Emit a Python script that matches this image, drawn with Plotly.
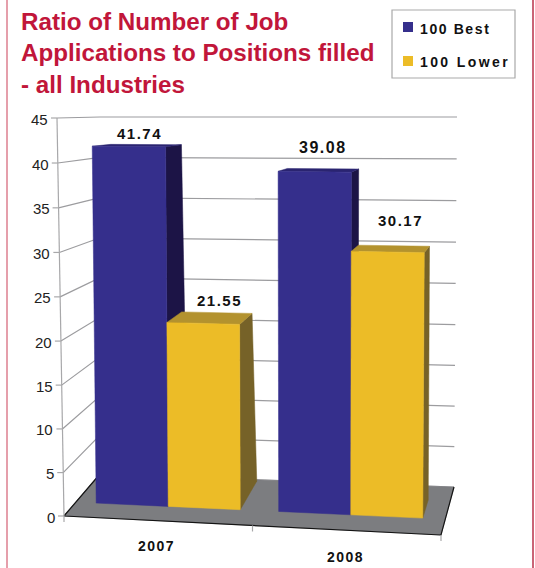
import plotly.graph_objects as go

# ---------- data ----------
YEARS = ["2007", "2008"]
BEST = [41.74, 39.08]
LOWER = [21.55, 30.17]
Y_TICKS = [0, 5, 10, 15, 20, 25, 30, 35, 40, 45]
Y_MAX = 45
TITLE = "Ratio of Number of Job<br>Applications to Positions filled<br>- all Industries"
SERIES = ["100 Best", "100 Lower"]

# ---------- projection of the 3-D plot box on the page ----------
W, H = 535, 568
FL0, FR0, BL0, BR0 = (64, 516), (441, 535), (100, 474), (454, 487)
FL1, FR1, BL1, BR1 = (57, 118), (443.5, 121), (100, 117), (457, 117)
BOW = 2.0


def lerp(a, b, t):
    return a + (b - a) * t


def bilin(fl, fr, bl, br, u, w):
    return tuple(lerp(lerp(fl[i], fr[i], u), lerp(bl[i], br[i], u), w) for i in (0, 1))


def project(u, value, w):
    lo = bilin(FL0, FR0, BL0, BR0, u, w)
    hi = bilin(FL1, FR1, BL1, BR1, u, w)
    t = value / Y_MAX
    return (lerp(lo[0], hi[0], t), lerp(lo[1], hi[1], t) + BOW * 4 * t * (1 - t))


fig = go.Figure()


def poly(points, fill, name):
    fig.add_trace(go.Scatter(
        x=[p[0] for p in points] + [points[0][0]],
        y=[p[1] for p in points] + [points[0][1]],
        mode="lines", fill="toself", fillcolor=fill,
        line=dict(color=fill, width=0.5),
        hoverinfo="skip", showlegend=False, name=name))


def polyline(segments, color, width, name):
    xs, ys = [], []
    for seg in segments:
        xs += [p[0] for p in seg] + [None]
        ys += [p[1] for p in seg] + [None]
    fig.add_trace(go.Scatter(x=xs, y=ys, mode="lines",
                             line=dict(color=color, width=width),
                             hoverinfo="skip", showlegend=False, name=name))


# walls
grid = []
for t in Y_TICKS:
    grid.append([project(0, t, 0), project(0, t, 1), project(1, t, 1)])
polyline(grid, "#9c9c9f", 1.2, "grid")

# floor
poly([project(0, 0, 0), project(1, 0, 0), project(1, 0, 1), project(0, 0, 1)], "#7c7d80", "floor")
polyline([[project(0, 0, 1), project(0, 0, 0), project(1, 0, 0), project(1, 0, 1)]], "#141414", 1.2, "floor edge")

# axes + ticks
polyline([[project(0, 0, 0), project(0, Y_MAX, 0)]], "#a8a8aa", 1.2, "y axis")
ticks = []
for t in Y_TICKS:
    p = project(0, t, 0)
    ticks.append([(p[0] - 6, p[1]), p])
polyline(ticks, "#a8a8aa", 1.2, "y ticks")
polyline([[project(u, 0, 0), (project(u, 0, 0)[0], project(u, 0, 0)[1] + 6)] for u in (0, 0.5, 1)],
         "#a8a8aa", 1.2, "x ticks")

# bars
BAR_W = 0.195
WF = 0.33
YEAR_SHIFT = [0, -0.006]
SPAN_BASE = [0.64, 0.38]
SPAN_TOP = [0.45, 0.35]
BLUE = ("#352f8c", "#1c1446", "#2a2470")
YELLOW = ("#ecbc27", "#766228", "#b3922e")

for c in range(len(YEARS)):
    centre = (c + 0.5) / len(YEARS) + YEAR_SHIFT[c]
    for s, (vals, cols) in enumerate(((BEST, BLUE), (LOWER, YELLOW))):
        v = vals[c]
        u0 = centre + (s - 1) * BAR_W
        u1 = u0 + BAR_W
        wb0, wb1 = WF + SPAN_BASE[c], WF + SPAN_TOP[c]
        poly([project(u1, 0, WF), project(u1, 0, wb0), project(u1, v, wb1), project(u1, v, WF)],
             cols[1], f"{SERIES[s]} {YEARS[c]} side")
        poly([project(u0, v, WF), project(u1, v, WF), project(u1, v, wb1), project(u0, v, wb1)],
             cols[2], f"{SERIES[s]} {YEARS[c]} top")
        poly([project(u0, 0, WF), project(u1, 0, WF), project(u1, v, WF), project(u0, v, WF)],
             cols[0], f"{SERIES[s]} {YEARS[c]} front")

# text
ann = []
FONT = "Liberation Sans"


def text(x, y, s, size, color="#111111", bold=True, anchor="center"):
    ann.append(dict(x=x, y=y, xref="x", yref="y", text=f"<b>{s}</b>" if bold else s, showarrow=False,
                    font=dict(family=FONT, size=size, color=color),
                    xanchor=anchor, yanchor="middle", align="left", borderpad=0))


LABEL_OFFSET = [[(7, -13), (13, -23)], [(4, -24), (9, -32)]]
LABEL_SIZE = [[15, 15], [16, 15]]
for c in range(len(YEARS)):
    centre = (c + 0.5) / len(YEARS) + YEAR_SHIFT[c]
    for s, vals in enumerate((BEST, LOWER)):
        uc = centre + (s - 0.5) * BAR_W
        p = project(uc, vals[c], WF)
        dx, dy = LABEL_OFFSET[c][s]
        text(p[0] + dx, p[1] + dy, f"{vals[c]:.2f}", LABEL_SIZE[c][s])

for t in Y_TICKS:
    p = project(0, t, 0)
    text(p[0] - 8, p[1] + 1, str(t), 15, "#222222", False, "right")

YEAR_OFFSET = [(-5, 25), (-4, 27)]
for c, y in enumerate(YEARS):
    p = project((c + 0.5) / len(YEARS), 0, 0)
    text(p[0] + YEAR_OFFSET[c][0], p[1] + YEAR_OFFSET[c][1], y, 14)

ann.append(dict(x=19, y=53, xref="x", yref="y", text=f"<b>{TITLE}</b>", showarrow=False,
                font=dict(family=FONT, size=24.2, color="#c1163a"),
                xanchor="left", yanchor="middle", align="left"))

# legend
LEG_X, LEG_Y = [408, 408], [27, 61]
LEG_TEXT_Y = [29, 62]
for i, name in enumerate(SERIES):
    fig.add_trace(go.Scatter(x=[LEG_X[i]], y=[LEG_Y[i]], mode="markers",
                             marker=dict(symbol="square", size=10, color=(BLUE, YELLOW)[i][0]),
                             hoverinfo="skip", showlegend=False, name=name))
    text(419, LEG_TEXT_Y[i], name, 14, anchor="left")

shapes = [
    dict(type="rect", x0=392, x1=515, y0=10, y1=78, line=dict(color="#a9a9a9", width=1.2), layer="below"),
    dict(type="line", x0=7, x1=7, y0=0, y1=H, line=dict(color="#dd7f8f", width=1.5)),
    dict(type="line", x0=533, x1=533, y0=0, y1=H, line=dict(color="#b8324a", width=1.5)),
]

fig.update_layout(
    width=W, height=H, margin=dict(l=0, r=0, t=0, b=0),
    paper_bgcolor="white", plot_bgcolor="white", showlegend=False,
    xaxis=dict(range=[0, W], visible=False, fixedrange=True),
    yaxis=dict(range=[H, 0], visible=False, fixedrange=True),
    annotations=ann, shapes=shapes,
)

SPACING = {f"{v:.2f}": "1.5px" for v in BEST + LOWER}
SPACING.update({y: "1.5px" for y in YEARS})
SPACING.update({SERIES[0]: "1.6px", SERIES[1]: "2.4px"})
post = """
var spacing = %s;
document.querySelectorAll('.annotation-text').forEach(function (t) {
  var s = spacing[t.textContent];
  if (s) { t.style.letterSpacing = s; }
});
document.body.style.margin = '0';
""" % (str(SPACING))
fig.write_html("out.html", post_script=post, config=dict(displayModeBar=False))
